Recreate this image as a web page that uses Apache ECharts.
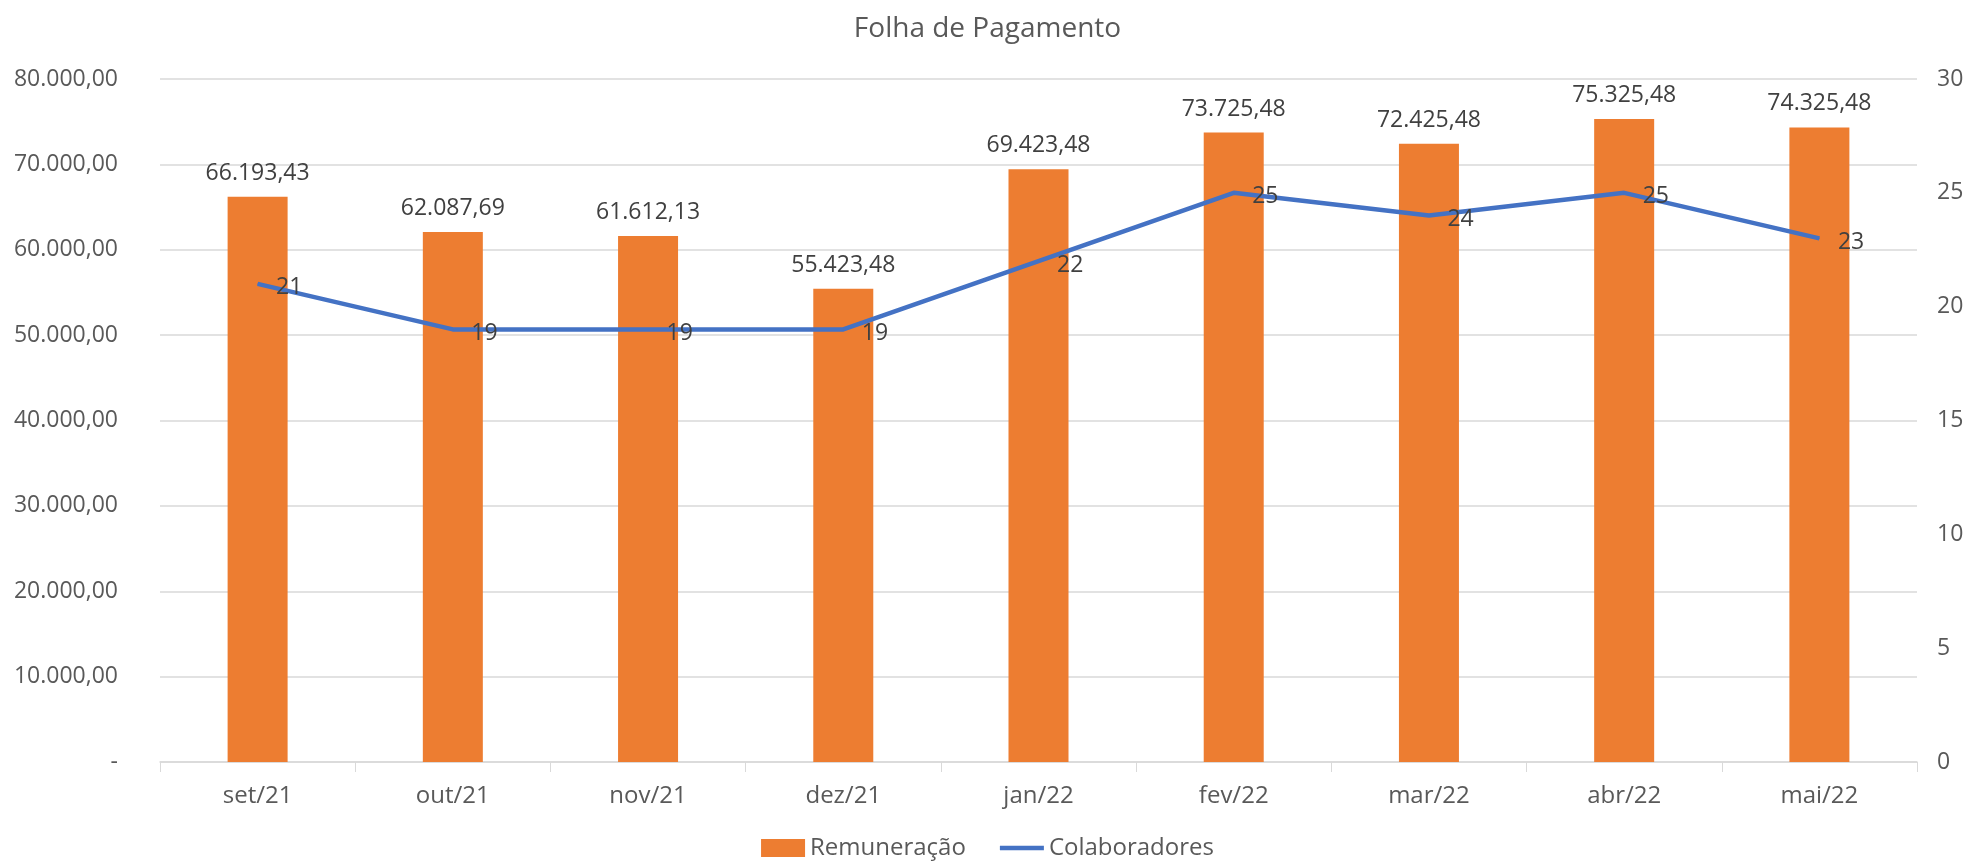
<!DOCTYPE html>
<html>
<head>
<meta charset="utf-8">
<script src="https://cdn.jsdelivr.net/npm/echarts@6/dist/echarts.min.js"></script>
<style>
  html, body { margin: 0; padding: 0; background: #fff; }
  #chart { width: 1975px; height: 865px; }
</style>
</head>
<body>
<div id="chart"></div>
<script>
// dados
const months = ['set/21', 'out/21', 'nov/21', 'dez/21', 'jan/22', 'fev/22', 'mar/22', 'abr/22', 'mai/22']
const remuneracao = [66193.43, 62087.69, 61612.13, 55423.48, 69423.48, 73725.48, 72425.48, 75325.48, 74325.48]
const colaboradores = [21, 19, 19, 19, 22, 25, 24, 25, 23]

const fontFam = 'Open Sans, Noto Sans, sans-serif'

// formato brasileiro 80.000,00
function fmtBR (v) {
  if (v === 0) return '-'
  const parts = v.toFixed(2).split('.')
  return parts[0].replace(/\B(?=(\d{3})+(?!\d))/g, '.') + ',' + parts[1]
}

const chart = echarts.init(document.getElementById('chart'))
chart.setOption({
  animation: false,
  title: {
    text: 'Folha de Pagamento',
    left: 'center',
    top: 10,
    textStyle: { color: '#595959', fontFamily: fontFam, fontSize: 28, fontWeight: 'normal' }
  },
  legend: {
    bottom: 0,
    left: 'center',
    itemGap: 34,
    itemWidth: 44,
    itemHeight: 18,
    itemTextGap: 4,
    textStyle: { color: '#595959', fontFamily: fontFam, fontSize: 24 },
    data: [
      { name: 'Remuneração', icon: 'rect' },
      { name: 'Colaboradores', icon: 'path://M0,0h44v4.5h-44z' }
    ]
  },
  grid: { left: 160, right: 58, top: 79, bottom: 103 },
  xAxis: {
    type: 'category',
    data: months,
    axisLine: { lineStyle: { color: '#d9d9d9', width: 1.5 } },
    axisTick: { show: true, length: 10, lineStyle: { color: '#d9d9d9' } },
    axisLabel: { color: '#595959', fontFamily: fontFam, fontSize: 24, margin: 22 }
  },
  yAxis: [
    {
      type: 'value',
      min: 0,
      max: 80000,
      interval: 10000,
      axisLine: { show: false },
      axisTick: { show: false },
      splitLine: { lineStyle: { color: '#d9d9d9', width: 1.5 } },
      axisLabel: { color: '#595959', fontFamily: fontFam, fontSize: 23, margin: 42, formatter: fmtBR }
    },
    {
      type: 'value',
      min: 0,
      max: 30,
      interval: 5,
      axisLine: { show: false },
      axisTick: { show: false },
      splitLine: { show: false },
      axisLabel: { color: '#595959', fontFamily: fontFam, fontSize: 23, margin: 20 }
    }
  ],
  series: [
    {
      name: 'Remuneração',
      type: 'bar',
      data: remuneracao,
      barWidth: 60,
      itemStyle: { color: '#ED7D31' },
      label: {
        show: true,
        position: 'top',
        distance: 12,
        color: '#404040',
        fontFamily: fontFam,
        fontSize: 23,
        formatter: p => fmtBR(p.value)
      }
    },
    {
      name: 'Colaboradores',
      type: 'line',
      yAxisIndex: 1,
      data: colaboradores,
      symbol: 'circle',
      symbolSize: 1,
      lineStyle: { color: '#4472C4', width: 4.5 },
      itemStyle: { color: '#4472C4' },
      label: {
        show: true,
        position: 'right',
        distance: 18,
        offset: [0, 4],
        color: '#404040',
        fontFamily: fontFam,
        fontSize: 23
      }
    }
  ]
})
</script>
</body>
</html>
